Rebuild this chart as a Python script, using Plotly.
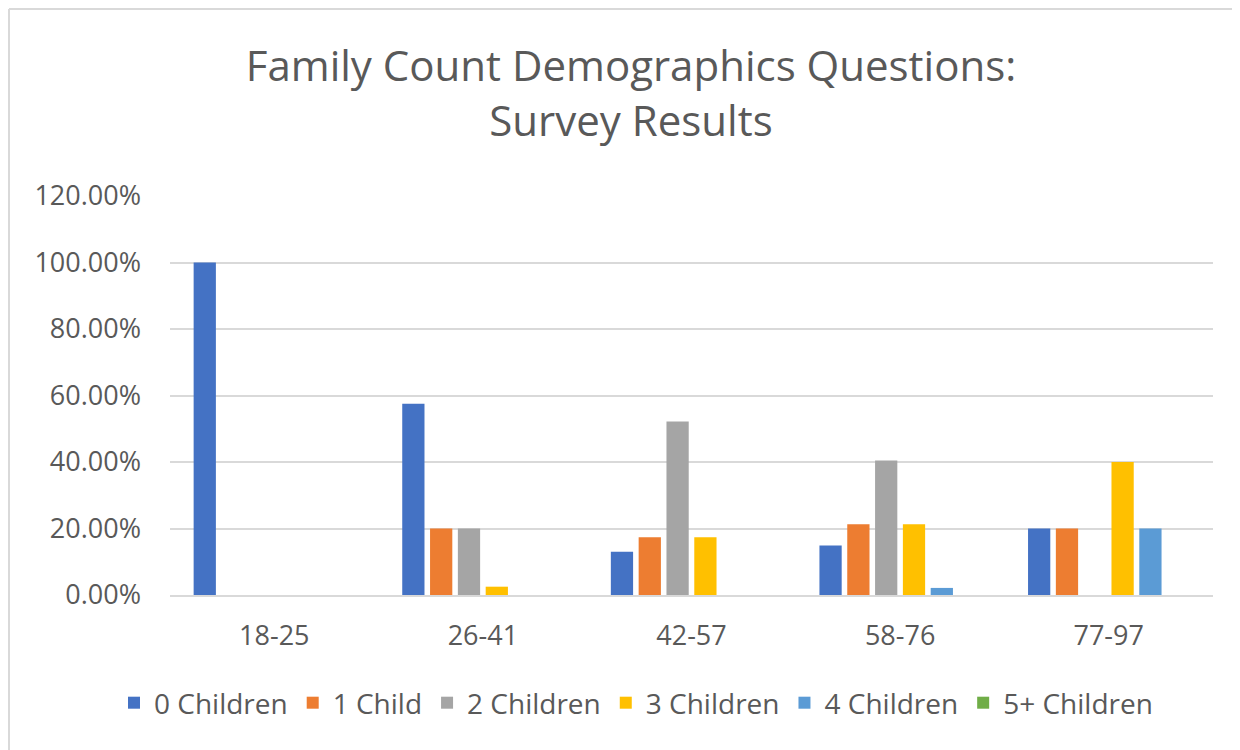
import plotly.graph_objects as go

categories = ["18-25", "26-41", "42-57", "58-76", "77-97"]
series_names = ["0 Children", "1 Child", "2 Children", "3 Children", "4 Children", "5+ Children"]
zero_children = [1.00, 0.575, 0.1304, 0.1489, 0.20]
one_child = [0.0, 0.20, 0.1739, 0.2128, 0.20]
two_children = [0.0, 0.20, 0.5217, 0.4043, 0.0]
three_children = [0.0, 0.025, 0.1739, 0.2128, 0.40]
four_children = [0.0, 0.0, 0.0, 0.0213, 0.20]
five_plus_children = [0.0, 0.0, 0.0, 0.0, 0.0]
colors = ["#4472C4", "#ED7D31", "#A5A5A5", "#FFC000", "#5B9BD5", "#70AD47"]

all_series = [zero_children, one_child, two_children, three_children, four_children, five_plus_children]

W, H = 1240, 750
L, R, T, B = 162, 35, 188, 163
FONT = "Open Sans"
TXT = "#595959"

fig = go.Figure()
for name, vals, col in zip(series_names, all_series, colors):
    fig.add_trace(go.Bar(x=categories, y=vals, name=name, marker=dict(color=col, line=dict(width=0))))

pw = W - L - R
ph = H - T - B

fig.update_layout(
    width=W, height=H,
    margin=dict(l=L, r=R, t=T, b=B, autoexpand=False),
    paper_bgcolor="white", plot_bgcolor="white",
    barmode="group", bargap=0.2, bargroupgap=0.2,
    font=dict(family=FONT, color=TXT, size=27),
    title=dict(
        text="Family Count Demographics Questions:<br>Survey Results",
        x=(631 - 8) / W, xref="container", xanchor="center",
        y=1 - 73 / H, yref="container", yanchor="top",
        font=dict(family=FONT, size=42, color=TXT),
    ),
    legend=dict(
        orientation="h", x=(636 - 8) / W, xanchor="center", xref="container",
        y=1 - 695 / H, yref="container", yanchor="middle",
        font=dict(family=FONT, size=28, color=TXT),
        itemwidth=30, traceorder="normal",
    ),
    showlegend=True,
)
fig.update_xaxes(
    showgrid=False, showline=True, linecolor="#D9D9D9", linewidth=2,
    ticks="", ticklabelstandoff=16, tickangle=0, tickfont=dict(size=27, color=TXT),
)
fig.update_yaxes(
    range=[0, 1.2], dtick=0.2, tickformat=".2%",
    showgrid=True, gridcolor="#D9D9D9", gridwidth=2,
    zeroline=False, showline=False, ticks="",
    ticklabelstandoff=28, tickfont=dict(size=27, color=TXT),
)

# outer chart border (top and left visible)
fig.add_shape(type="line", xref="paper", yref="paper",
              x0=(1 - L) / pw, x1=(W + 10 - L) / pw,
              y0=(T + ph - 1) / ph, y1=(T + ph - 1) / ph,
              line=dict(color="#D9D9D9", width=2))
fig.add_shape(type="line", xref="paper", yref="paper",
              x0=(1 - L) / pw, x1=(1 - L) / pw,
              y0=(T + ph - 1) / ph, y1=(T + ph - H - 10) / ph,
              line=dict(color="#D9D9D9", width=2))

fig.write_html("out.html")
